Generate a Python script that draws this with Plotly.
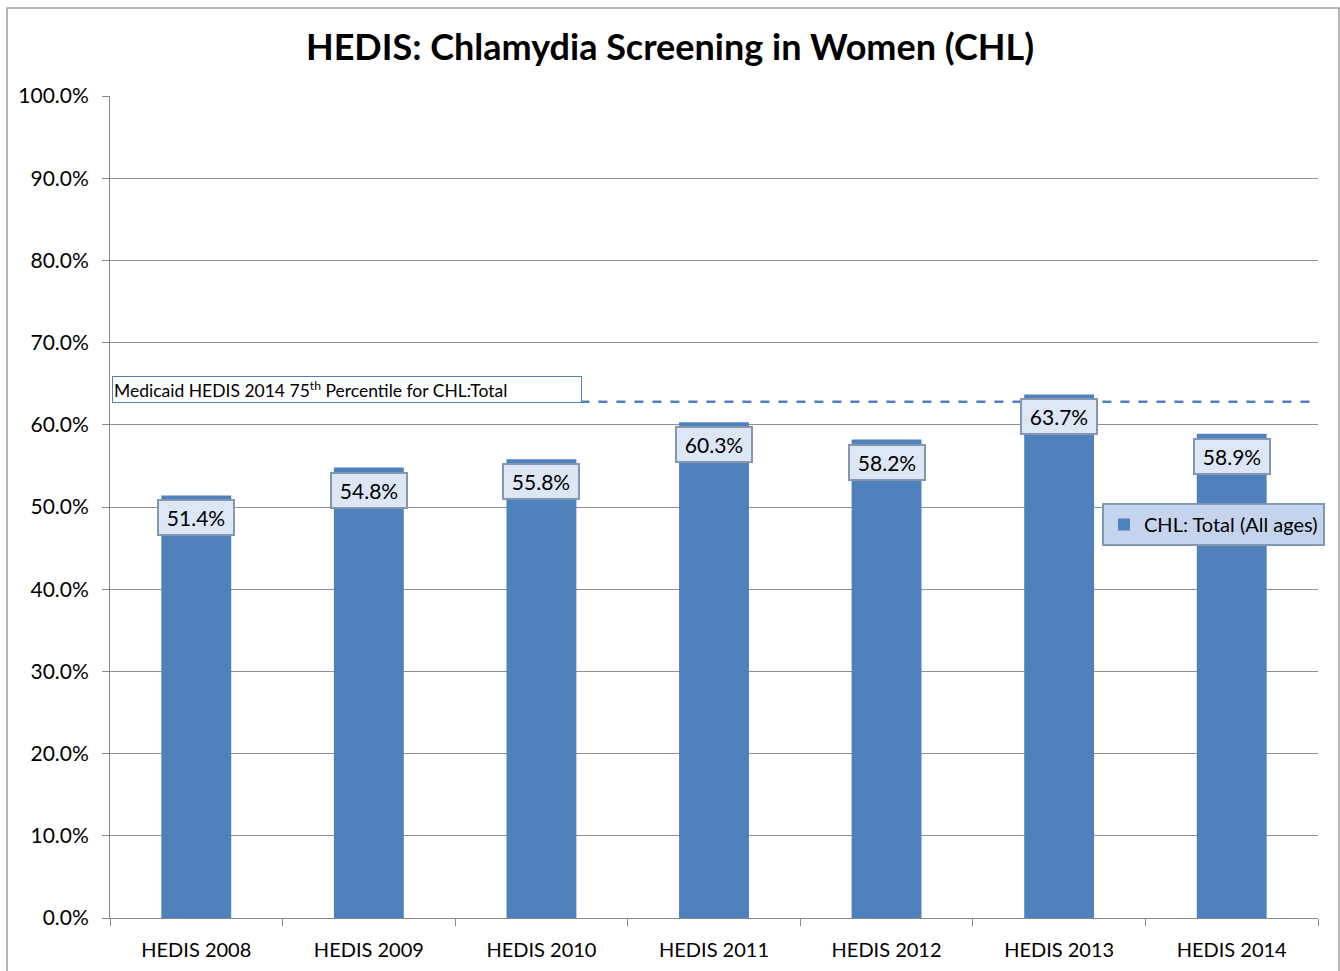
import plotly.graph_objects as go

categories = ["HEDIS 2008", "HEDIS 2009", "HEDIS 2010", "HEDIS 2011", "HEDIS 2012", "HEDIS 2013", "HEDIS 2014"]
values = [51.4, 54.8, 55.8, 60.3, 58.2, 63.7, 58.9]
benchmark = 62.8
benchmark_label = "Medicaid HEDIS 2014 75<sup>th</sup> Percentile for CHL:Total"
series_name = "CHL: Total (All ages)"
y_ticks = [0, 10, 20, 30, 40, 50, 60, 70, 80, 90, 100]

FONT = "Lato, 'Open Sans', sans-serif"
BLUE = "#4F81BD"

fig = go.Figure()
fig.add_trace(go.Bar(
    x=categories, y=values, name=series_name,
    marker=dict(color=BLUE, line=dict(width=0)),
    showlegend=True,
))

# data labels
for c, v in zip(categories, values):
    fig.add_annotation(
        x=c, y=v, xref="x", yref="y", text=f"{v:.1f}%",
        showarrow=False, yanchor="top", yshift=-4,
        font=dict(family=FONT, size=21, color="#000"),
        bgcolor="#DCE6F4", bordercolor="#8497B0", borderwidth=2, borderpad=4,
        width=66,
    )

# benchmark dashed line
fig.add_shape(type="line", xref="paper", yref="y", x0=0.002, x1=0.997, y0=benchmark, y1=benchmark,
              line=dict(color=BLUE, width=2.5, dash="dash"), layer="above")
fig.add_annotation(
    xref="paper", yref="y", x=0.0017, y=benchmark, xanchor="left", yanchor="bottom",
    text=benchmark_label, showarrow=False, align="left",
    font=dict(family=FONT, size=17.5, color="#000"),
    bgcolor="white", bordercolor=BLUE, borderwidth=1, borderpad=1,
    width=466, yshift=-1,
)

# outer chart border
fig.add_shape(type="rect", xref="paper", yref="paper",
              x0=(7 - 110) / 1208, x1=(1339 - 110) / 1208,
              y0=-0.08, y1=1 + (96 - 8) / 822,
              line=dict(color="#A0A0A0", width=1.5), fillcolor="rgba(0,0,0,0)", layer="below")

fig.update_layout(
    width=1340, height=971, autosize=False,
    margin=dict(l=110, r=22, t=96, b=53, autoexpand=False),
    paper_bgcolor="white", plot_bgcolor="white",
    title=dict(text="<b>HEDIS: Chlamydia Screening in Women (CHL)</b>", x=0.5, xanchor="center",
               y=1 - 47 / 971, yanchor="middle", font=dict(family=FONT, size=36, color="#000")),
    bargap=0.595,
    font=dict(family=FONT, color="#000"),
    legend=dict(x=(1102 - 110) / 1208, y=(918 - 503) / 822, xanchor="left", yanchor="top",
                bgcolor="#C4D4EC", bordercolor="#8497B0", borderwidth=2,
                font=dict(family=FONT, size=20, color="#000"), itemsizing="constant",
                itemwidth=30),
    xaxis=dict(showline=True, linecolor="#888", linewidth=1, ticks="outside", ticklen=7,
               tickcolor="#888", tickson="boundaries", tickfont=dict(size=20, family=FONT),
               showgrid=False, ticklabelstandoff=14, automargin=False),
    yaxis=dict(range=[0, 100], tickvals=y_ticks, ticktext=[f"{t:.1f}%" for t in y_ticks],
               showline=True, linecolor="#888", linewidth=1, ticks="outside", ticklen=7,
               tickcolor="#888", gridcolor="#909090", gridwidth=1, tickfont=dict(size=21, family=FONT),
               zeroline=False, ticklabelstandoff=9, automargin=False),
)

fig.write_html(
    "out.html",
    config={"displayModeBar": False, "responsive": False},
    post_script="document.documentElement.style.overflow='hidden';document.body.style.margin='0';"
                "document.body.style.padding='0';document.body.style.overflow='hidden';",
)
